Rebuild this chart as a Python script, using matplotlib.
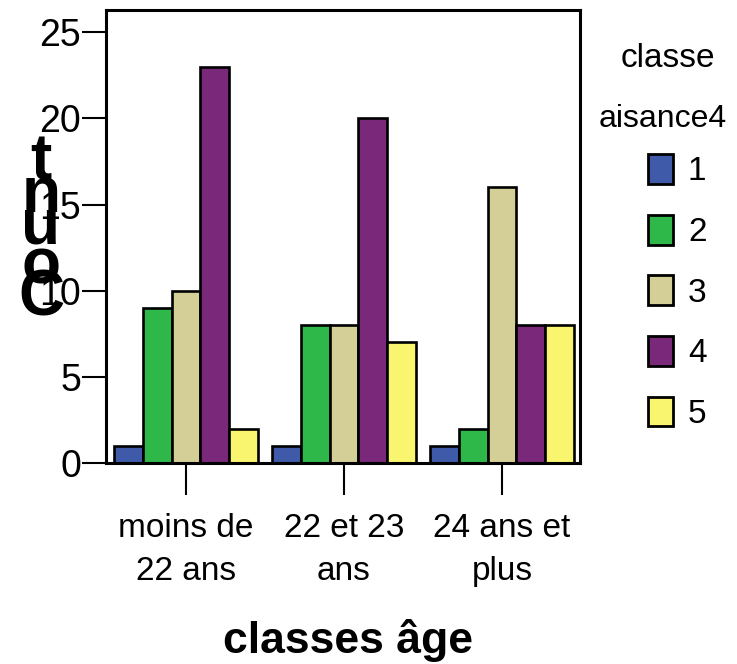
import numpy as np
import matplotlib
matplotlib.use('Agg')
import matplotlib.pyplot as plt

# data
age_groups = ['moins de\n22 ans', '22 et 23\nans', '24 ans et\nplus']
aisance_levels = ['1', '2', '3', '4', '5']
counts = {
    '1': [1, 1, 1],
    '2': [9, 8, 2],
    '3': [10, 8, 16],
    '4': [23, 20, 8],
    '5': [2, 7, 8],
}
colors = ['#3F5AA8', '#2EB84A', '#D3CF97', '#7A2879', '#F9F56F']

plt.rcParams['font.family'] = ['Liberation Sans', 'DejaVu Sans']

W, H = 737, 664
fig = plt.figure(figsize=(W / 100, H / 100), dpi=100)
ax = fig.add_axes([0.1438, 0.3027, 0.6432, 0.682])

x = np.arange(len(age_groups))
w = 0.182
for i, lvl in enumerate(aisance_levels):
    ax.bar(x + (i - 2) * w, counts[lvl], width=w, color=colors[i],
           edgecolor='black', linewidth=1.9, label=lvl, zorder=2)

ax.set_xlim(-0.506, 2.494)
ax.set_ylim(0, 26.28)
ax.set_yticks([0, 5, 10, 15, 20, 25])
ax.set_xticks(x)
ax.set_xticklabels(age_groups, fontsize=24, linespacing=1.5)
ax.tick_params(axis='y', labelsize=27, length=17, width=1.5, pad=1)
ax.tick_params(axis='x', length=23, width=1.5, pad=13)
for s in ax.spines.values():
    s.set_linewidth(2.2)

ax.set_xlabel('classes âge', fontsize=32, fontweight='bold')
ax.xaxis.set_label_coords(0.51, -0.419)
ax.xaxis.label.set_va('baseline')

# y label drawn as stacked letters, like the original export
for ch, base in zip('tnuoC', [180, 212, 243, 283, 316]):
    fig.text(41 / W, 1 - base / H, ch, fontsize=46, fontweight='bold',
             ha='center', va='baseline')

# legend title as two centred lines
fig.text(668 / W, 1 - 67 / H, 'classe', fontsize=24, ha='center', va='baseline')
fig.text(663 / W, 1 - 127 / H, 'aisance4', fontsize=23, ha='center', va='baseline')

leg = ax.legend(loc='upper left', bbox_to_anchor=(648 / W, 1 - 154 / H),
                bbox_transform=fig.transFigure, frameon=False,
                fontsize=24, borderpad=0, borderaxespad=0,
                handlelength=0.75, handleheight=1.0, labelspacing=0.82,
                handletextpad=0.45)
for p in leg.get_patches():
    p.set_linewidth(2.0)

fig.savefig('out.png', dpi=100)
